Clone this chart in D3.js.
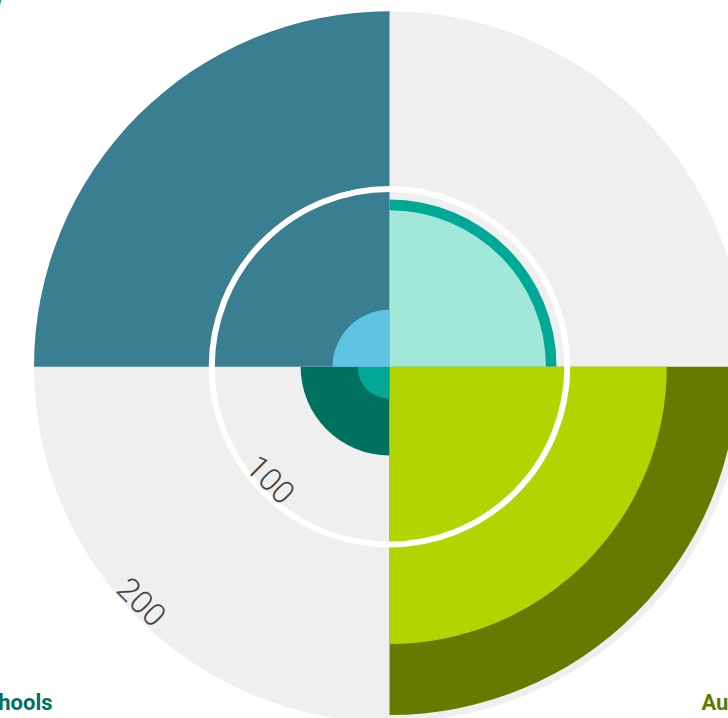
<!DOCTYPE html>
<html>
<head>
<meta charset="utf-8">
<script src="https://cdn.jsdelivr.net/npm/d3@7"></script>
<style>
  html, body { margin: 0; padding: 0; background: #ffffff; overflow: hidden; }
  svg { display: block; }
</style>
</head>
<body>
<svg id="chart" width="728" height="718"></svg>
<script>
// ---- data (clockwise from 12 o'clock) ----
const categories   = ["Universities", "Australia-wide", "Schools", "Early learning (ECEC)"];
const outerValues  = [94, 196, 50, 200];
const innerValues  = [88, 156, 18, 32];
const outerColors  = ["#00a896", "#667a00", "#00705f", "#3a7f91"];
const innerColors  = ["#a2e8da", "#b2d400", "#00a896", "#5ec4e1"];
const labelColors  = ["#00a896", "#5f7a00", "#00705f", "#3a7f91"];
const maxValue     = 200;
const gridTicks    = [100, 200];
const tickLabels   = ["100", "200"];

// ---- layout ----
const svg = d3.select("#chart");
const cx = 389.5, cy = 366.7;
const g = svg.append("g").attr("transform", `translate(${cx},${cy})`);

const angle = d3.scaleBand().domain(categories).range([0, 2 * Math.PI]).padding(0);
const r = d3.scaleLinear().domain([0, maxValue]).range([0, 355.5]);

const arc = d3.arc()
  .innerRadius(0)
  .startAngle(d => angle(d.cat))
  .endAngle(d => angle(d.cat) + angle.bandwidth())
  .outerRadius(d => r(d.v));

const rows = categories.map((c, i) => ({cat: c, i}));

// background
g.selectAll("path.bg").data(rows).join("path")
  .attr("class", "bg")
  .attr("d", d => arc({cat: d.cat, v: maxValue}))
  .attr("fill", "#efefef");

// outer series
g.selectAll("path.outer").data(rows).join("path")
  .attr("class", "outer")
  .attr("d", d => arc({cat: d.cat, v: outerValues[d.i]}))
  .attr("fill", d => outerColors[d.i]);

// inner series
g.selectAll("path.inner").data(rows).join("path")
  .attr("class", "inner")
  .attr("d", d => arc({cat: d.cat, v: innerValues[d.i]}))
  .attr("fill", d => innerColors[d.i]);

// grid circle at 100
g.append("circle")
  .attr("r", r(gridTicks[0]))
  .attr("fill", "none")
  .attr("stroke", "#ffffff")
  .attr("stroke-width", 6);

// tick labels along the bottom-left diagonal, tangent to the rings
const tickAngle = 136.5 * Math.PI / 180; // SVG angle pointing down-left
g.selectAll("text.tick").data(gridTicks).join("text")
  .attr("class", "tick")
  .attr("transform", (t, i) => {
    const rr = r(t) - 14;
    const x = Math.cos(tickAngle) * rr, y = Math.sin(tickAngle) * rr;
    return `translate(${x},${y}) rotate(45)`;
  })
  .attr("text-anchor", "middle")
  .attr("dy", "0.36em")
  .attr("font-family", "Roboto, 'DejaVu Sans', sans-serif")
  .attr("font-weight", 300)
  .attr("font-size", 32)
  .attr("fill", "#444444")
  .text((t, i) => tickLabels[i]);

// category labels at the corners (partly outside the window, as in the reference)
const labelRadius = 485;
const midAngle = d => angle(d.cat) + angle.bandwidth() / 2;
g.selectAll("text.cat").data(rows).join("text")
  .attr("class", "cat")
  .attr("x", d => {
    const a = midAngle(d);
    const off = Math.sin(a) * labelRadius;
    const top = -Math.cos(a) < 0;
    if (off < 0) return top ? off - 44 : off + 6;
    return top ? off + 2 : off - 31;
  })
  .attr("y", d => {
    const off = -Math.cos(midAngle(d)) * labelRadius;
    return off < 0 ? off - 20 : off;
  })
  .attr("text-anchor", d => Math.sin(midAngle(d)) < 0 ? "end" : "start")
  .attr("font-family", "Roboto, 'DejaVu Sans', sans-serif")
  .attr("font-weight", 700)
  .attr("font-size", 22)
  .attr("fill", d => labelColors[d.i])
  .text(d => d.cat);
</script>
</body>
</html>
